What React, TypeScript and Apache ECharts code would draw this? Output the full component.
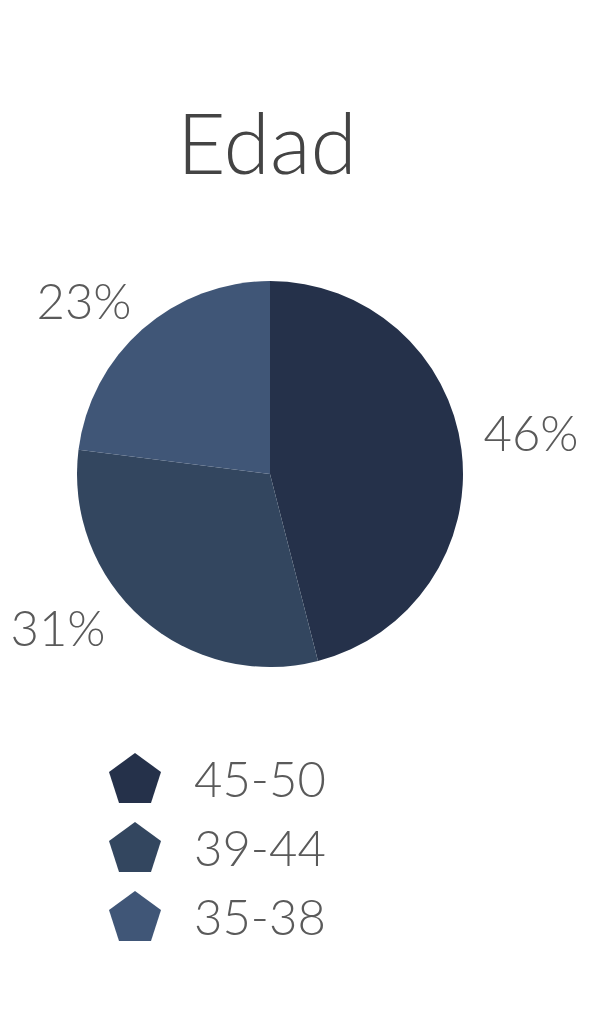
import React, { useEffect, useRef } from "react";
import * as echarts from "echarts";

const categories = ["45-50", "39-44", "35-38"];
const values = [46, 31, 23];
const colors = ["#25314a", "#33465f", "#405677"];
const titleText = "Edad";

// label centres (layout, not data)
const labelPos = [
  [531, 432],
  [58, 627],
  [84, 300],
];

const FONT = "Lato, 'Open Sans', sans-serif";
const pentagon = "path://M26,0 L52,19 L42,50 L10,50 L0,19 Z";

export default function App() {
  const ref = useRef<HTMLDivElement>(null);
  useEffect(() => {
    document.body.style.margin = "0";
    const chart = echarts.init(ref.current!, undefined, { renderer: "svg" });
    chart.setOption({
      animation: false,
      backgroundColor: "#ffffff",
      title: {
        text: titleText,
        left: 172,
        top: 94,
        textStyle: {
          fontFamily: FONT,
          fontWeight: 300,
          fontSize: 84,
          color: "#444444",
        },
      },
      legend: {
        orient: "vertical",
        left: 109,
        top: 753,
        padding: 0,
        itemWidth: 52,
        itemHeight: 50,
        itemGap: 19,
        icon: pentagon,
        data: categories,
        textStyle: {
          fontFamily: FONT,
          fontWeight: 300,
          fontSize: 49,
          color: "#5a5a5a",
          padding: [4, 0, 0, 28],
        },
      },
      series: [
        {
          type: "pie",
          center: [270, 474],
          radius: 193,
          startAngle: 90,
          clockwise: true,
          data: categories.map((c, i) => ({
            name: c,
            value: values[i],
            itemStyle: { color: colors[i] },
          })),
          label: {
            show: true,
            position: "outside",
            formatter: (p: any) => `${p.value}%`,
            fontFamily: FONT,
            fontWeight: 300,
            fontSize: 49,
            color: "#5a5a5a",
            overflow: "none",
          },
          labelLine: { show: false },
          labelLayout: (params: any) => ({
            x: labelPos[params.dataIndex][0],
            y: labelPos[params.dataIndex][1],
            align: "center",
            verticalAlign: "middle",
            hideOverlap: false,
          }),
          emphasis: { disabled: true },
        },
      ],
    });
    return () => chart.dispose();
  }, []);
  return <div ref={ref} style={{ width: 597, height: 1024 }} />;
}
